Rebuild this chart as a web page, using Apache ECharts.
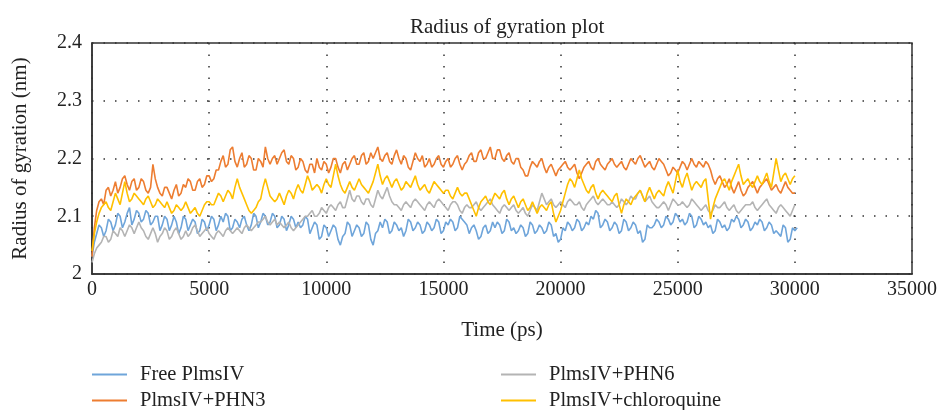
<!DOCTYPE html>
<html><head><meta charset="utf-8">
<script src="https://cdn.jsdelivr.net/npm/echarts@6/dist/echarts.min.js"></script>
<style>html,body{margin:0;padding:0;background:#fff}#c{width:937px;height:410px}</style>
</head><body><div id="c"></div>
<script>
const seriesNames = ['Free PlmsIV', 'PlmsIV+PHN3', 'PlmsIV+PHN6', 'PlmsIV+chloroquine'];
const timeStep = 100; // ps between samples, from 0 to 30000
const xTicks = [0, 5000, 10000, 15000, 20000, 25000, 30000, 35000];
const yTicks = [2, 2.1, 2.2, 2.3, 2.4];

const freePlmsIV = [
2.03,2.055,2.07,2.085,2.08,2.065,2.075,2.095,2.09,2.075,
2.085,2.105,2.1,2.08,2.09,2.105,2.115,2.085,2.095,2.11,
2.105,2.09,2.095,2.11,2.105,2.085,2.09,2.1,2.1,2.075,
2.085,2.1,2.095,2.075,2.085,2.1,2.09,2.07,2.08,2.1,
2.095,2.075,2.085,2.095,2.09,2.07,2.075,2.095,2.09,2.075,
2.085,2.1,2.095,2.075,2.085,2.1,2.09,2.105,2.1,2.075,
2.08,2.095,2.09,2.08,2.095,2.1,2.085,2.075,2.085,2.105,
2.1,2.08,2.09,2.105,2.1,2.085,2.09,2.105,2.1,2.08,
2.085,2.1,2.095,2.075,2.085,2.1,2.095,2.08,2.09,2.08,
2.085,2.1,2.095,2.07,2.08,2.09,2.085,2.06,2.065,2.085,
2.08,2.065,2.075,2.085,2.08,2.06,2.05,2.065,2.07,2.09,
2.085,2.065,2.075,2.085,2.08,2.065,2.07,2.09,2.085,2.06,
2.05,2.07,2.075,2.09,2.08,2.095,2.09,2.07,2.075,2.09,
2.085,2.075,2.08,2.065,2.075,2.095,2.09,2.075,2.08,2.09,
2.085,2.07,2.075,2.09,2.085,2.075,2.08,2.095,2.09,2.07,
2.075,2.09,2.085,2.095,2.09,2.075,2.08,2.1,2.095,2.09,
2.085,2.07,2.08,2.085,2.075,2.06,2.065,2.08,2.085,2.07,
2.075,2.09,2.08,2.09,2.085,2.07,2.075,2.095,2.09,2.075,
2.08,2.07,2.075,2.085,2.08,2.065,2.07,2.09,2.085,2.07,
2.075,2.085,2.08,2.07,2.075,2.09,2.085,2.065,2.07,2.055,
2.06,2.08,2.075,2.09,2.085,2.075,2.08,2.095,2.09,2.075,
2.08,2.09,2.085,2.1,2.095,2.11,2.105,2.08,2.085,2.095,
2.09,2.075,2.08,2.09,2.085,2.07,2.075,2.095,2.09,2.075,
2.08,2.09,2.085,2.07,2.075,2.055,2.06,2.085,2.08,2.08,
2.085,2.095,2.09,2.08,2.085,2.1,2.095,2.085,2.09,2.105,
2.1,2.09,2.095,2.085,2.09,2.105,2.1,2.08,2.085,2.1,
2.095,2.085,2.09,2.08,2.085,2.07,2.075,2.095,2.09,2.08,
2.085,2.075,2.08,2.095,2.09,2.1,2.095,2.08,2.085,2.095,
2.09,2.075,2.08,2.09,2.085,2.095,2.09,2.075,2.08,2.09,
2.085,2.07,2.075,2.07,2.065,2.085,2.08,2.055,2.06,2.08,
2.075,2.08];

const plmsPHN3 = [
2.03,2.08,2.11,2.125,2.13,2.12,2.145,2.15,2.135,2.145,
2.16,2.14,2.15,2.165,2.17,2.155,2.145,2.16,2.165,2.145,
2.15,2.165,2.16,2.145,2.14,2.15,2.19,2.165,2.15,2.14,
2.135,2.15,2.15,2.14,2.13,2.145,2.155,2.135,2.14,2.155,
2.15,2.165,2.16,2.145,2.145,2.16,2.165,2.15,2.155,2.17,
2.17,2.16,2.165,2.18,2.18,2.195,2.205,2.185,2.19,2.215,
2.22,2.195,2.185,2.2,2.21,2.185,2.19,2.205,2.2,2.18,
2.18,2.2,2.195,2.185,2.22,2.2,2.19,2.2,2.205,2.19,
2.2,2.21,2.215,2.195,2.19,2.205,2.2,2.18,2.185,2.2,
2.195,2.18,2.175,2.19,2.19,2.175,2.2,2.185,2.18,2.195,
2.19,2.175,2.185,2.2,2.2,2.185,2.175,2.19,2.195,2.18,
2.19,2.2,2.205,2.19,2.19,2.205,2.21,2.19,2.195,2.21,
2.2,2.21,2.22,2.2,2.195,2.205,2.21,2.195,2.19,2.205,
2.215,2.2,2.19,2.205,2.2,2.185,2.18,2.195,2.21,2.2,
2.195,2.205,2.185,2.19,2.2,2.185,2.19,2.2,2.205,2.19,
2.185,2.195,2.2,2.185,2.19,2.2,2.205,2.19,2.18,2.19,
2.195,2.205,2.21,2.195,2.195,2.21,2.215,2.2,2.2,2.21,
2.22,2.2,2.2,2.215,2.215,2.2,2.195,2.205,2.21,2.195,
2.19,2.2,2.2,2.185,2.18,2.17,2.17,2.185,2.195,2.19,
2.185,2.195,2.2,2.185,2.175,2.185,2.19,2.18,2.17,2.18,
2.185,2.19,2.195,2.185,2.18,2.185,2.19,2.175,2.165,2.175,
2.185,2.19,2.195,2.185,2.18,2.195,2.2,2.19,2.185,2.18,
2.19,2.195,2.2,2.19,2.185,2.19,2.195,2.185,2.18,2.19,
2.2,2.195,2.19,2.2,2.205,2.195,2.185,2.19,2.195,2.185,
2.18,2.19,2.2,2.195,2.19,2.18,2.17,2.175,2.185,2.18,
2.175,2.185,2.195,2.19,2.18,2.19,2.2,2.19,2.185,2.195,
2.19,2.185,2.195,2.19,2.18,2.165,2.155,2.165,2.17,2.16,
2.15,2.155,2.165,2.15,2.14,2.15,2.16,2.145,2.135,2.14,
2.15,2.155,2.16,2.15,2.14,2.15,2.155,2.16,2.165,2.155,
2.145,2.15,2.155,2.145,2.14,2.15,2.16,2.15,2.145,2.14,
2.14];

const plmsPHN6 = [
2.02,2.035,2.045,2.05,2.055,2.065,2.065,2.055,2.06,2.075,
2.07,2.065,2.08,2.075,2.065,2.075,2.085,2.08,2.07,2.08,
2.09,2.08,2.075,2.065,2.06,2.07,2.08,2.07,2.055,2.065,
2.07,2.08,2.075,2.06,2.065,2.075,2.08,2.07,2.06,2.065,
2.075,2.065,2.07,2.08,2.085,2.075,2.065,2.07,2.075,2.08,
2.07,2.065,2.06,2.07,2.075,2.07,2.065,2.075,2.08,2.075,
2.07,2.075,2.08,2.075,2.07,2.08,2.085,2.08,2.075,2.08,
2.085,2.09,2.09,2.095,2.1,2.09,2.085,2.09,2.095,2.085,
2.09,2.085,2.08,2.085,2.09,2.08,2.075,2.08,2.085,2.09,
2.095,2.1,2.1,2.105,2.11,2.1,2.1,2.105,2.115,2.11,
2.105,2.115,2.12,2.115,2.11,2.12,2.125,2.115,2.115,2.13,
2.145,2.13,2.125,2.135,2.135,2.125,2.12,2.13,2.13,2.12,
2.115,2.13,2.145,2.135,2.13,2.14,2.15,2.135,2.125,2.12,
2.12,2.115,2.11,2.12,2.125,2.12,2.115,2.125,2.13,2.125,
2.12,2.115,2.11,2.12,2.125,2.12,2.115,2.125,2.13,2.125,
2.12,2.115,2.11,2.12,2.125,2.125,2.12,2.11,2.105,2.115,
2.12,2.115,2.115,2.12,2.125,2.115,2.11,2.115,2.12,2.125,
2.13,2.12,2.115,2.11,2.105,2.115,2.12,2.115,2.11,2.115,
2.12,2.11,2.105,2.11,2.115,2.105,2.1,2.11,2.12,2.115,
2.11,2.125,2.14,2.13,2.12,2.125,2.13,2.12,2.115,2.12,
2.125,2.12,2.115,2.125,2.13,2.125,2.12,2.12,2.125,2.115,
2.11,2.12,2.125,2.13,2.135,2.125,2.12,2.125,2.13,2.125,
2.12,2.12,2.125,2.12,2.115,2.12,2.13,2.125,2.12,2.125,
2.135,2.13,2.13,2.14,2.145,2.135,2.125,2.13,2.135,2.125,
2.12,2.115,2.115,2.12,2.125,2.12,2.11,2.12,2.13,2.125,
2.12,2.12,2.125,2.12,2.115,2.12,2.13,2.125,2.12,2.115,
2.11,2.115,2.12,2.11,2.105,2.11,2.12,2.115,2.115,2.12,
2.125,2.115,2.11,2.115,2.12,2.11,2.105,2.11,2.115,2.12,
2.12,2.12,2.125,2.115,2.11,2.115,2.12,2.125,2.13,2.12,
2.115,2.11,2.105,2.115,2.12,2.115,2.11,2.105,2.1,2.11,
2.12];

const plmsChloroquine = [
2.04,2.07,2.09,2.105,2.115,2.12,2.125,2.115,2.11,2.125,
2.14,2.13,2.12,2.14,2.16,2.14,2.125,2.13,2.14,2.135,
2.13,2.125,2.12,2.13,2.135,2.125,2.115,2.12,2.13,2.125,
2.12,2.115,2.125,2.115,2.105,2.11,2.12,2.115,2.11,2.115,
2.125,2.115,2.105,2.11,2.115,2.105,2.1,2.11,2.12,2.125,
2.125,2.12,2.12,2.13,2.14,2.135,2.125,2.135,2.145,2.14,
2.13,2.15,2.165,2.15,2.14,2.13,2.12,2.11,2.105,2.11,
2.115,2.125,2.13,2.15,2.165,2.15,2.135,2.13,2.125,2.13,
2.14,2.13,2.12,2.135,2.145,2.14,2.13,2.145,2.155,2.145,
2.14,2.155,2.17,2.16,2.145,2.15,2.155,2.15,2.14,2.155,
2.165,2.155,2.15,2.17,2.19,2.17,2.155,2.145,2.14,2.15,
2.16,2.15,2.145,2.155,2.165,2.155,2.15,2.145,2.14,2.15,
2.16,2.175,2.19,2.17,2.155,2.165,2.17,2.16,2.15,2.16,
2.165,2.155,2.145,2.15,2.16,2.155,2.15,2.16,2.17,2.155,
2.145,2.15,2.155,2.145,2.14,2.15,2.16,2.155,2.15,2.145,
2.14,2.145,2.145,2.135,2.13,2.14,2.15,2.14,2.135,2.14,
2.14,2.13,2.12,2.11,2.1,2.115,2.125,2.13,2.135,2.125,
2.12,2.13,2.14,2.135,2.13,2.14,2.145,2.13,2.12,2.13,
2.135,2.125,2.115,2.125,2.13,2.12,2.11,2.115,2.125,2.115,
2.105,2.115,2.12,2.115,2.11,2.12,2.125,2.105,2.09,2.1,
2.11,2.125,2.14,2.155,2.165,2.16,2.15,2.165,2.18,2.165,
2.155,2.145,2.14,2.15,2.155,2.14,2.13,2.14,2.145,2.14,
2.135,2.13,2.125,2.135,2.14,2.12,2.105,2.12,2.13,2.125,
2.12,2.13,2.135,2.14,2.145,2.135,2.125,2.14,2.15,2.14,
2.13,2.14,2.145,2.14,2.135,2.15,2.16,2.15,2.14,2.16,
2.18,2.16,2.15,2.165,2.175,2.16,2.145,2.155,2.16,2.155,
2.15,2.16,2.165,2.13,2.095,2.115,2.13,2.14,2.15,2.16,
2.165,2.155,2.145,2.16,2.17,2.18,2.19,2.17,2.155,2.16,
2.165,2.155,2.15,2.16,2.17,2.16,2.155,2.165,2.175,2.16,
2.15,2.175,2.2,2.18,2.16,2.17,2.175,2.165,2.155,2.165,
2.17];

const seriesData = [freePlmsIV, plmsPHN3, plmsPHN6, plmsChloroquine];
const colors = ['#6FA5DA', '#ED7D31', '#B4B4B4', '#FFC000'];
const drawOrder = [0, 2, 1, 3];
const FONT = 'Liberation Serif';
const TXT = '#222';

const chart = echarts.init(document.getElementById('c'), null, {renderer: 'canvas'});
const series = drawOrder.map((k, j) => ({
  name: seriesNames[k],
  type: 'line',
  data: seriesData[k].map((v, i) => [i * timeStep, v]),
  showSymbol: false,
  symbol: 'none',
  lineStyle: {color: colors[k], width: 1.6},
  itemStyle: {color: colors[k]},
  z: 2 + j,
  animation: false
}));
function legendAt(left, top, name) {
  return {
    left: left, top: top, padding: 0, orient: 'horizontal',
    itemWidth: 35, itemHeight: 2, icon: 'rect',
    data: [name],
    textStyle: {fontFamily: FONT, fontSize: 20.5, color: TXT, padding: [0, 0, 0, 8]}
  };
}
chart.setOption({
  animation: false,
  title: {text: 'Radius of gyration plot', left: 405, top: 12,
    textStyle: {fontFamily: FONT, fontSize: 21, fontWeight: 'normal', color: TXT}},
  legend: [
    legendAt(92, 364, seriesNames[0]),
    legendAt(92, 390, seriesNames[1]),
    legendAt(501, 364, seriesNames[2]),
    legendAt(501, 390, seriesNames[3])
  ],
  grid: {left: 92, right: 25, top: 43, bottom: 136, outerBoundsMode: 'none', containLabel: false,
    show: true, borderColor: '#333', borderWidth: 1.5, backgroundColor: 'transparent'},
  xAxis: {
    type: 'value', min: xTicks[0], max: xTicks[xTicks.length - 1], interval: xTicks[1] - xTicks[0],
    name: 'Time (ps)', nameLocation: 'middle', nameGap: 46,
    nameTextStyle: {fontFamily: FONT, fontSize: 21, color: TXT},
    axisLine: {lineStyle: {color: '#333', width: 1.5}},
    axisTick: {show: false},
    axisLabel: {fontFamily: FONT, fontSize: 20, color: TXT, margin: 6, formatter: v => String(v)},
    splitLine: {show: true, lineStyle: {color: '#333', type: [1.5, 10], width: 1.5}}
  },
  yAxis: {
    type: 'value', min: yTicks[0], max: yTicks[yTicks.length - 1], interval: 0.1,
    name: 'Radius of gyration (nm)', nameLocation: 'middle', nameGap: 61,
    nameTextStyle: {fontFamily: FONT, fontSize: 21, color: TXT},
    axisLine: {lineStyle: {color: '#333', width: 1.5}},
    axisTick: {show: false},
    axisLabel: {fontFamily: FONT, fontSize: 20, color: TXT, margin: 10,
      formatter: v => String(Math.round(v * 10) / 10)},
    splitLine: {show: true, lineStyle: {color: '#333', type: [1.5, 10], width: 1.5}}
  },
  series: series
});
</script></body></html>
